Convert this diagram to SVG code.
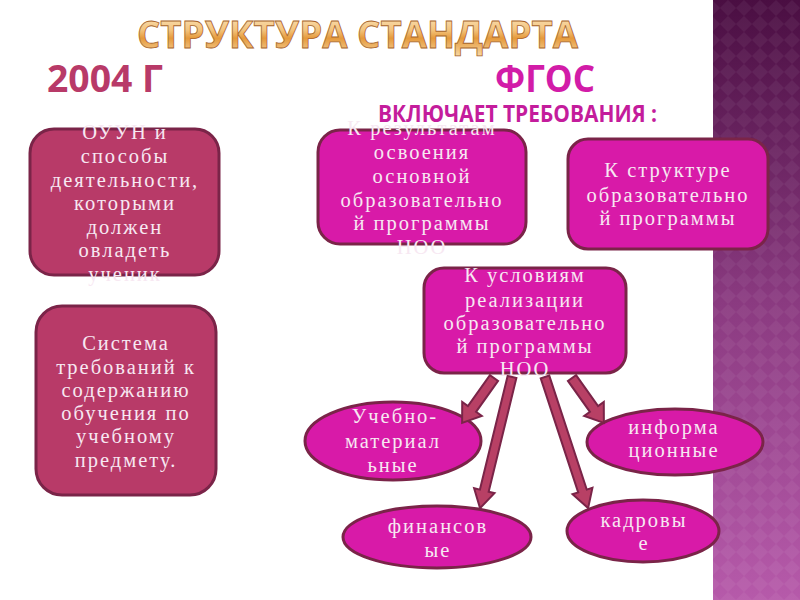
<svg xmlns="http://www.w3.org/2000/svg" width="800" height="600" viewBox="0 0 800 600">
<defs>
<linearGradient id="stripe" x1="0" y1="0" x2="0" y2="1">
<stop offset="0" stop-color="#4a0e42"/>
<stop offset="0.5" stop-color="#8a3a80"/>
<stop offset="1" stop-color="#b65aaa"/>
</linearGradient>
<pattern id="diam" width="16" height="16" patternUnits="userSpaceOnUse">
<path d="M8 0 L16 8 L8 16 L0 8 Z" fill="#ffffff" fill-opacity="0.05"/>
</pattern>
<linearGradient id="gold" x1="0" y1="0" x2="0" y2="1">
<stop offset="0" stop-color="#fff4dc"/>
<stop offset="0.45" stop-color="#f3c27a"/>
<stop offset="0.6" stop-color="#e59a3c"/>
<stop offset="1" stop-color="#fbe2b4"/>
</linearGradient>
<style>
.hd{font-family:"Open Sans","Liberation Sans",sans-serif;font-weight:bold}
.rbox{fill:#b83a68;stroke:#7a2448;stroke-width:3}
.mbox{fill:#d81aa8;stroke:#7a2448;stroke-width:3}
.t{font-family:"Liberation Serif","DejaVu Serif",serif;font-size:20.5px;letter-spacing:2px;fill:#f7e8f2;text-anchor:middle}
.arr{fill:#b84065;stroke:#7a2448;stroke-width:2;stroke-linejoin:miter}
</style>
</defs>
<rect x="0" y="0" width="800" height="600" fill="#ffffff"/>
<rect x="713" y="0" width="87" height="600" fill="url(#stripe)"/>
<rect x="713" y="0" width="87" height="600" fill="url(#diam)"/>

<text class="hd" x="137" y="48" font-size="38" textLength="441" lengthAdjust="spacingAndGlyphs" fill="url(#gold)" stroke="#a8642a" stroke-width="0.8">СТРУКТУРА СТАНДАРТА</text>
<text class="hd" x="47" y="92" font-size="38" textLength="116" lengthAdjust="spacingAndGlyphs" fill="#b83a68">2004 Г</text>
<text class="hd" x="495" y="92" font-size="38" textLength="100" lengthAdjust="spacingAndGlyphs" fill="#d21ca8">ФГОС</text>
<text class="hd" x="378" y="122" font-size="23" textLength="279" lengthAdjust="spacingAndGlyphs" fill="#c41c9c">ВКЛЮЧАЕТ ТРЕБОВАНИЯ :</text>

<g id="node-ouun">
<rect class="rbox" x="30" y="129" width="189" height="146" rx="24"/>
<text class="t"><tspan x="125" y="139">ОУУН и</tspan><tspan x="125" y="163">способы</tspan><tspan x="125" y="187">деятельности,</tspan><tspan x="125" y="210">которыми</tspan><tspan x="125" y="234">должен</tspan><tspan x="125" y="257">овладеть</tspan><tspan x="125" y="281">ученик</tspan></text>
</g>
<g id="node-sistema">
<rect class="rbox" x="36" y="306" width="180" height="189" rx="26"/>
<text class="t"><tspan x="126" y="350">Система</tspan><tspan x="126" y="374">требований к</tspan><tspan x="126" y="397">содержанию</tspan><tspan x="126" y="420">обучения по</tspan><tspan x="126" y="443">учебному</tspan><tspan x="126" y="467">предмету.</tspan></text>
</g>
<g id="node-results">
<rect class="mbox" x="318" y="130" width="208" height="114" rx="22"/>
<text class="t"><tspan x="422" y="135">К результатам</tspan><tspan x="422" y="159">освоения</tspan><tspan x="422" y="183">основной</tspan><tspan x="422" y="207">образовательно</tspan><tspan x="422" y="230">й программы</tspan><tspan x="422" y="254">НОО</tspan></text>
</g>
<g id="node-structure">
<rect class="mbox" x="568" y="139" width="200" height="110" rx="20"/>
<text class="t"><tspan x="668" y="177">К структуре</tspan><tspan x="668" y="202">образовательно</tspan><tspan x="668" y="225">й программы</tspan></text>
</g>
<g id="node-conditions">
<rect class="mbox" x="424" y="268" width="202" height="105" rx="20"/>
<text class="t"><tspan x="525" y="282">К условиям</tspan><tspan x="525" y="307">реализации</tspan><tspan x="525" y="330">образовательно</tspan><tspan x="525" y="353">й программы</tspan><tspan x="525" y="376">НОО</tspan></text>
</g>
<g id="node-uchebno">
<ellipse class="mbox" cx="393" cy="441" rx="88" ry="39"/>
<text class="t"><tspan x="395" y="423">Учебно-</tspan><tspan x="393" y="448">материал</tspan><tspan x="393" y="472">ьные</tspan></text>
</g>
<g id="node-inform">
<ellipse class="mbox" cx="675" cy="442" rx="88" ry="33"/>
<text class="t"><tspan x="674" y="434">информа</tspan><tspan x="674" y="457">ционные</tspan></text>
</g>
<g id="node-finans">
<ellipse class="mbox" cx="437" cy="537" rx="94" ry="31"/>
<text class="t"><tspan x="438" y="533">финансов</tspan><tspan x="438" y="557">ые</tspan></text>
</g>
<g id="node-kadr">
<ellipse class="mbox" cx="643" cy="531" rx="76" ry="31"/>
<text class="t"><tspan x="644" y="527">кадровы</tspan><tspan x="644" y="550">е</tspan></text>
</g>

<g id="connectors">
<polygon class="arr" transform="translate(494,378) rotate(125.4)" points="0,-5 38,-5 38,-12 55,0 38,12 38,5 0,5"/>
<polygon class="arr" transform="translate(512,377) rotate(103.7)" points="0,-4.5 117,-4.5 117,-10.5 135,0 117,10.5 117,4.5 0,4.5"/>
<polygon class="arr" transform="translate(545,377) rotate(71.8)" points="0,-4.5 120,-4.5 120,-10.5 138,0 120,10.5 120,4.5 0,4.5"/>
<polygon class="arr" transform="translate(572,378) rotate(54.6)" points="0,-5 38,-5 38,-12 55,0 38,12 38,5 0,5"/>
</g>
</svg>
